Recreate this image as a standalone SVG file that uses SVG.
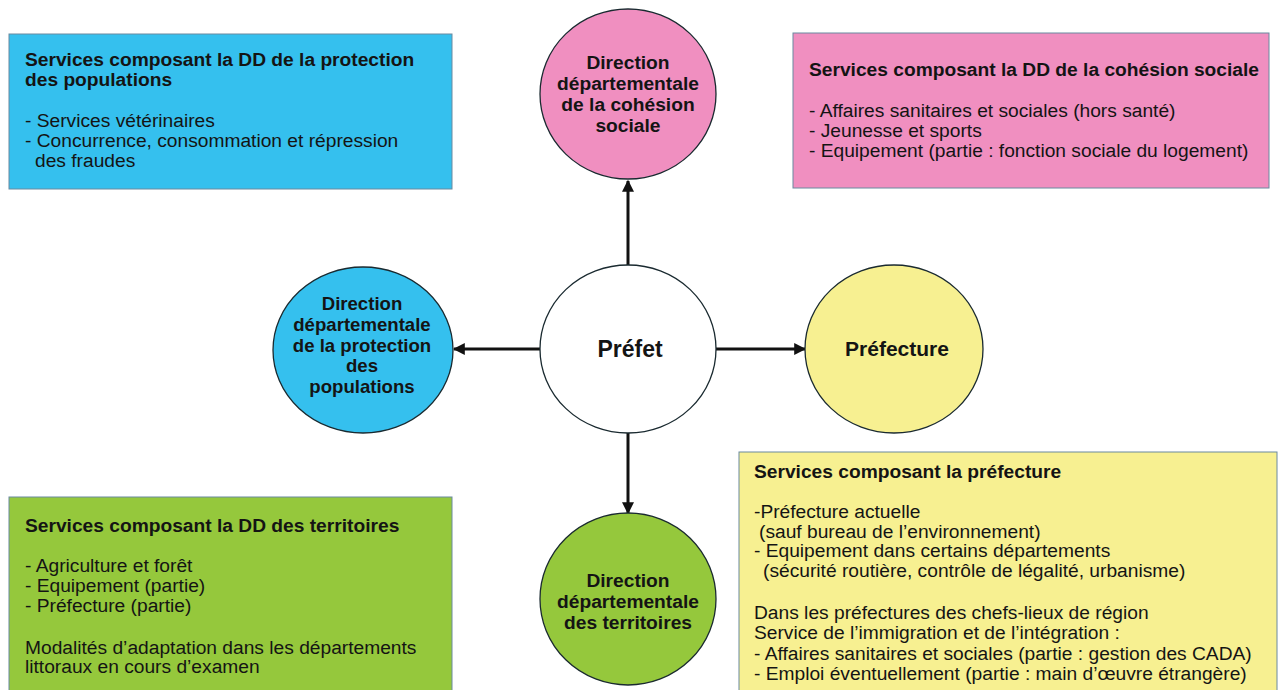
<svg xmlns="http://www.w3.org/2000/svg" width="1282" height="690" viewBox="0 0 1282 690">
<defs>
<style>
.box{stroke:#6a8aa0;stroke-width:1}
.node{stroke:#1a2a30;stroke-width:1.3}
text{font-family:"Liberation Sans",Arial,sans-serif;fill:#141414}
.t{font-size:19.2px;font-weight:bold}
.b{font-size:19.2px}
.c{font-size:19.2px;font-weight:bold;text-anchor:middle}
.cs{font-size:18.6px;font-weight:bold;text-anchor:middle}
.conn{stroke:#111;stroke-width:3;fill:none;marker-end:url(#ah)}
</style>
<marker id="ah" viewBox="0 0 10 10" refX="9" refY="5" markerWidth="4" markerHeight="4" orient="auto" markerUnits="strokeWidth">
<path d="M0,0 L10,5 L0,10 z" fill="#111"/>
</marker>
</defs>
<rect width="1282" height="690" fill="#ffffff"/>

<g id="box-ddpp">
<rect class="box" x="9" y="34" width="443" height="155" fill="#35c0ee"/>
<text class="t" x="25" y="66">Services composant la DD de la protection</text>
<text class="t" x="25" y="86">des populations</text>
<text class="b" x="25" y="127">- Services vétérinaires</text>
<text class="b" x="25" y="147">- Concurrence, consommation et répression</text>
<text class="b" x="35" y="167">des fraudes</text>
</g>

<g id="box-ddcs">
<rect class="box" x="793" y="33" width="476" height="155" fill="#f08fc0"/>
<text class="t" x="809" y="76">Services composant la DD de la cohésion sociale</text>
<text class="b" x="809" y="117">- Affaires sanitaires et sociales (hors santé)</text>
<text class="b" x="809" y="137">- Jeunesse et sports</text>
<text class="b" x="809" y="157">- Equipement (partie : fonction sociale du logement)</text>
</g>

<g id="box-ddt">
<rect class="box" x="9" y="497" width="443" height="200" fill="#95c83c"/>
<text class="t" x="25" y="532">Services composant la DD des territoires</text>
<text class="b" x="25" y="572">- Agriculture et forêt</text>
<text class="b" x="25" y="592">- Equipement (partie)</text>
<text class="b" x="25" y="612">- Préfecture (partie)</text>
<text class="b" x="25" y="654">Modalités d’adaptation dans les départements</text>
<text class="b" x="25" y="673">littoraux en cours d’examen</text>
</g>

<g id="box-prefecture">
<rect class="box" x="739" y="452" width="538" height="245" fill="#f7f091"/>
<text class="t" x="754" y="478">Services composant la préfecture</text>
<text class="b" x="754" y="518">-Préfecture actuelle</text>
<text class="b" x="759" y="538">(sauf bureau de l’environnement)</text>
<text class="b" x="754" y="557">- Equipement dans certains départements</text>
<text class="b" x="763" y="577">(sécurité routière, contrôle de légalité, urbanisme)</text>
<text class="b" x="754" y="619">Dans les préfectures des chefs-lieux de région</text>
<text class="b" x="754" y="639">Service de l’immigration et de l’intégration :</text>
<text class="b" x="754" y="660">- Affaires sanitaires et sociales  (partie : gestion des CADA)</text>
<text class="b" x="754" y="680">- Emploi éventuellement (partie : main d’œuvre étrangère)</text>
</g>

<g id="connectors">
<line class="conn" x1="628" y1="265" x2="628" y2="181"/>
<line class="conn" x1="540" y1="349" x2="454" y2="349"/>
<line class="conn" x1="716" y1="349" x2="805" y2="349"/>
<line class="conn" x1="628" y1="433" x2="628" y2="513"/>
</g>

<g id="node-ddcs">
<ellipse class="node" cx="628" cy="94" rx="88" ry="85" fill="#f08fc0"/>
<text class="c" x="628" y="69">Direction</text>
<text class="c" x="628" y="90">départementale</text>
<text class="c" x="628" y="111">de la cohésion</text>
<text class="c" x="628" y="132">sociale</text>
</g>

<g id="node-prefet">
<ellipse class="node" cx="628" cy="349" rx="88" ry="84" fill="#ffffff"/>
<text class="c" x="630" y="357" style="font-size:23px">Préfet</text>
</g>

<g id="node-ddpp">
<ellipse class="node" cx="363" cy="350" rx="90" ry="83" fill="#35c0ee"/>
<text class="cs" x="362" y="310">Direction</text>
<text class="cs" x="362" y="331">départementale</text>
<text class="cs" x="362" y="352">de la protection</text>
<text class="cs" x="362" y="372">des</text>
<text class="cs" x="362" y="393">populations</text>
</g>

<g id="node-prefecture">
<ellipse class="node" cx="894" cy="349" rx="89" ry="84" fill="#f7f091"/>
<text class="c" x="897" y="356" style="font-size:21px">Préfecture</text>
</g>

<g id="node-ddt">
<ellipse class="node" cx="628" cy="599" rx="88" ry="86" fill="#95c83c"/>
<text class="c" x="628" y="587">Direction</text>
<text class="c" x="628" y="608">départementale</text>
<text class="c" x="628" y="629">des territoires</text>
</g>
</svg>
